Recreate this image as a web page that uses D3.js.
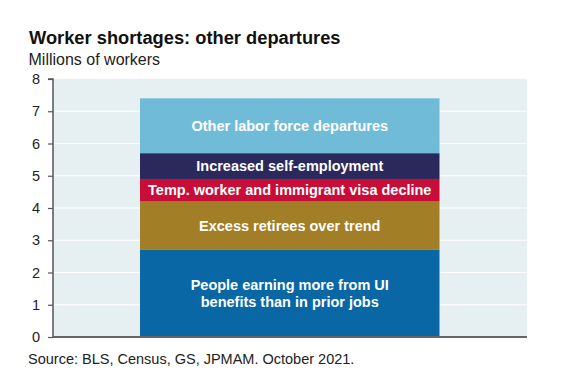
<!DOCTYPE html>
<html><head><meta charset="utf-8">
<script src="https://cdn.jsdelivr.net/npm/d3@7"></script>
<style>body{margin:0;background:#fff;font-family:"Liberation Sans",Arial,sans-serif;}</style>
</head><body><svg id="c" width="577" height="386"></svg>
<script>
const categories = ["People earning more from UI|benefits than in prior jobs","Excess retirees over trend","Temp. worker and immigrant visa decline","Increased self-employment","Other labor force departures"];
const values = [2.7, 1.5, 0.7, 0.8, 1.7];
const colors = ["#0867a4","#a27e26","#c70d38","#2b285c","#6fbbd8"];
const yTicks = [0,1,2,3,4,5,6,7,8];

const svg = d3.select("#c");
const m = {left:53, right:527, top:79, bottom:337};
const y = d3.scaleLinear().domain([0,8]).range([m.bottom, m.top]);

svg.append("text").attr("x",29).attr("y",43.5).attr("font-size",18.3).attr("font-weight","bold").attr("fill","#111").text("Worker shortages: other departures");
svg.append("text").attr("x",28.5).attr("y",65).attr("font-size",16).attr("fill","#222").text("Millions of workers");

svg.append("rect").attr("x",m.left).attr("y",m.top).attr("width",m.right-m.left).attr("height",m.bottom-m.top).attr("fill","#e6f0f3");
svg.append("g").selectAll("line").data(yTicks.filter(d=>d>0&&d<8)).join("line")
  .attr("x1",m.left).attr("x2",m.right).attr("y1",d=>y(d)).attr("y2",d=>y(d)).attr("stroke","#fff").attr("stroke-width",1.2);

let cum = 0;
const segs = values.map((v,i)=>{const s={y0:cum,y1:cum+v,c:colors[i],label:categories[i]}; cum+=v; return s;});
const bx = 140, bw = 439.5-140;
const g = svg.append("g");
g.selectAll("rect").data(segs).join("rect")
  .attr("x",bx).attr("width",bw).attr("y",d=>y(d.y1)).attr("height",d=>y(d.y0)-y(d.y1)).attr("fill",d=>d.c);
segs.forEach(s=>{
  const lines = s.label.split("|");
  const cy = (y(s.y0)+y(s.y1))/2;
  const lh = 17;
  const t = g.append("text").attr("text-anchor","middle").attr("font-size",14.5).attr("font-weight","bold").attr("fill","#fff");
  lines.forEach((l,i)=>{
    t.append("tspan").attr("x",bx+bw/2).attr("y",cy + (i-(lines.length-1)/2)*lh + 5).text(l);
  });
});

const ax = svg.append("g").attr("transform",`translate(${m.left},0)`).call(d3.axisLeft(y).tickValues(yTicks).tickSize(5).tickPadding(8).tickFormat(d3.format("d")));
ax.select(".domain").attr("stroke","#555").attr("stroke-width",1.5).attr("d",`M-5,${m.top}H0V${m.bottom}`);
ax.selectAll(".tick line").attr("stroke","#555").attr("stroke-width",1.2);
ax.selectAll(".tick text").attr("font-size",14.5).attr("fill","#222").attr("font-family","Liberation Sans, Arial, sans-serif");
svg.append("line").attr("x1",m.left).attr("x2",m.right).attr("y1",m.bottom).attr("y2",m.bottom).attr("stroke","#666").attr("stroke-width",2);

svg.append("text").attr("x",28).attr("y",363.5).attr("font-size",14.5).attr("fill","#222").text("Source: BLS, Census, GS, JPMAM. October 2021.");
</script></body></html>
